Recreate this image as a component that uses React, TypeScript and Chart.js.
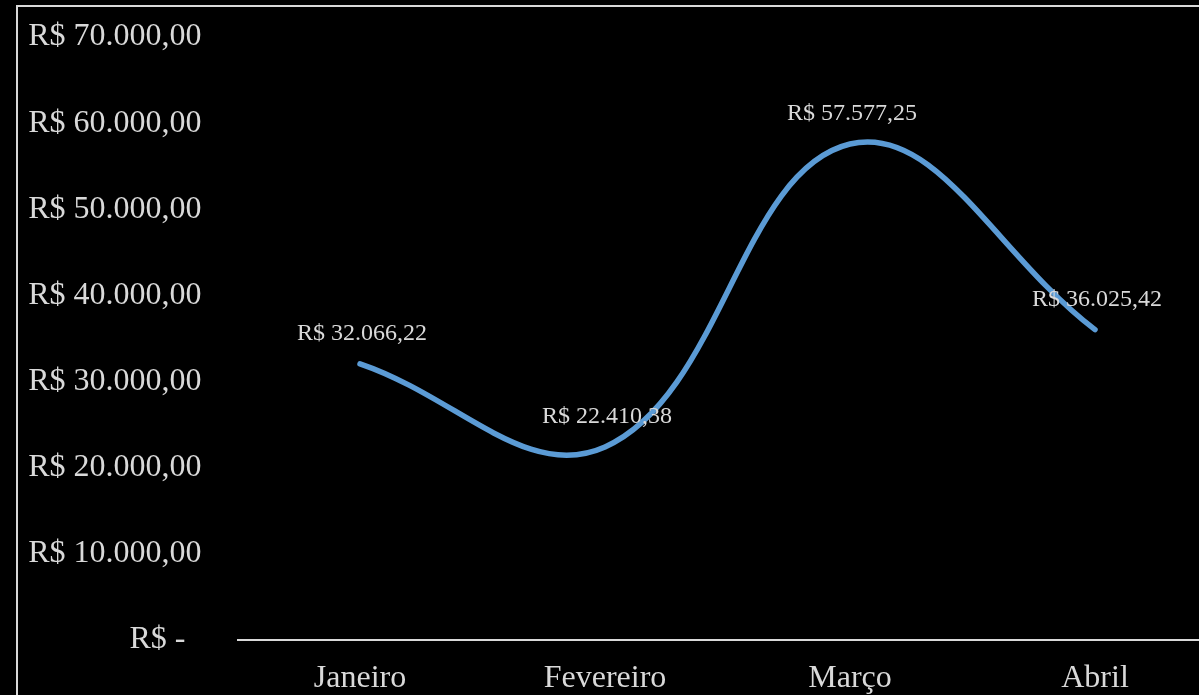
import React, { useEffect, useRef } from "react";
import { Chart, registerables } from "chart.js";

Chart.register(...registerables);

const categories = ["Janeiro", "Fevereiro", "Março", "Abril"];
const revenue = [32066.22, 22410.38, 57577.25, 36025.42];
const yMin = 0;
const yMax = 70000;
const yStep = 10000;

const FONT = '"Liberation Serif", "Times New Roman", serif';
const TEXT = "#d9d9d9";
const LINE = "#5B9BD5";

function fmtBRL(n: number): string {
  if (n === 0) return "R$ -  ";
  const fixed = n.toFixed(2);
  const [intPart, dec] = fixed.split(".");
  const withDots = intPart.replace(/\B(?=(\d{3})+(?!\d))/g, ".");
  return "R$ " + withDots + "," + dec;
}

const CW = 1230;
const CH = 720;

const dataLabelPlugin = {
  id: "dataLabels",
  afterDatasetsDraw(chart: any) {
    const ctx = chart.ctx;
    const meta = chart.getDatasetMeta(0);
    const values = chart.data.datasets[0].data as number[];
    ctx.save();
    ctx.font = `24px ${FONT}`;
    ctx.fillStyle = TEXT;
    ctx.textAlign = "center";
    ctx.textBaseline = "alphabetic";
    meta.data.forEach((pt: any, i: number) => {
      ctx.fillText(fmtBRL(values[i]), pt.x + 2, pt.y - 24);
    });
    ctx.restore();
  },
};

export default function App() {
  const ref = useRef<HTMLCanvasElement | null>(null);

  useEffect(() => {
    document.documentElement.style.overflow = "hidden";
    document.body.style.overflow = "hidden";
    document.body.style.background = "#000";
    const canvas = ref.current!;
    const chart = new Chart(canvas, {
      type: "line",
      data: {
        labels: categories,
        datasets: [
          {
            data: revenue,
            borderColor: LINE,
            borderWidth: 5.5,
            borderCapStyle: "round",
            borderJoinStyle: "round",
            pointRadius: 0,
            pointHoverRadius: 0,
            tension: 0.4,
            fill: false,
            clip: false as any,
          },
        ],
      },
      options: {
        responsive: false,
        animation: false,
        devicePixelRatio: 1,
        layout: { padding: { top: 37, right: 12.5, left: 0, bottom: 0 } },
        plugins: {
          legend: { display: false },
          tooltip: { enabled: false },
          title: { display: false },
        },
        scales: {
          x: {
            offset: true,
            grid: { display: false, drawTicks: false },
            border: { display: true, color: TEXT, width: 2 },
            ticks: {
              color: TEXT,
              font: { family: FONT, size: 32 },
              padding: 19,
              maxRotation: 0,
              autoSkip: false,
            },
            afterFit: (s: any) => {
              s.height = CH - 640;
              s.paddingLeft = 0;
              s.paddingRight = 0;
            },
          },
          y: {
            min: yMin,
            max: yMax,
            grid: { display: false, drawTicks: false },
            border: { display: false },
            ticks: {
              stepSize: yStep,
              color: TEXT,
              font: { family: FONT, size: 32 },
              padding: 36,
              callback: (v: any) => fmtBRL(Number(v)),
            },
            afterFit: (s: any) => {
              s.width = 237.5;
              s.paddingTop = 0;
              s.paddingBottom = 0;
            },
          },
        },
      },
      plugins: [dataLabelPlugin],
    });
    return () => chart.destroy();
  }, []);

  return (
    <div
      style={{
        position: "fixed",
        left: 0,
        top: 0,
        width: "100vw",
        height: "100vh",
        background: "#000",
        overflow: "hidden",
      }}
    >
      <div
        style={{
          position: "absolute",
          left: 16,
          top: 5,
          width: 3000,
          height: 3000,
          borderLeft: "2px solid #d9d9d9",
          borderTop: "2px solid #d9d9d9",
          boxSizing: "border-box",
        }}
      />
      <canvas
        ref={ref}
        width={CW}
        height={CH}
        style={{ position: "absolute", left: 0, top: 0, width: CW, height: CH }}
      />
    </div>
  );
}
